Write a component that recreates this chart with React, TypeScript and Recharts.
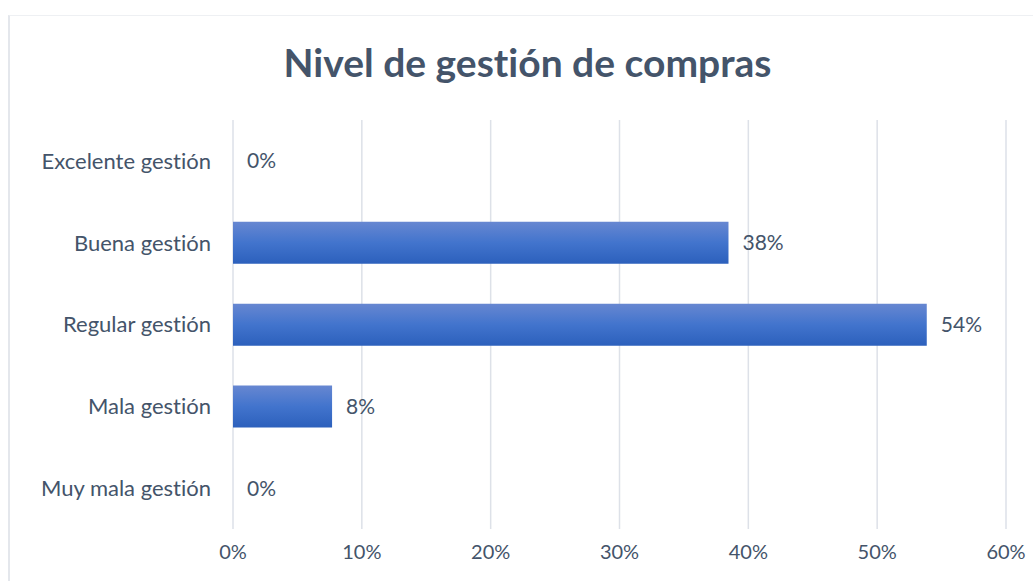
import React from "react";
import { BarChart, Bar, XAxis, YAxis, CartesianGrid, LabelList } from "recharts";

const categories = ["Excelente gestión", "Buena gestión", "Regular gestión", "Mala gestión", "Muy mala gestión"];
const percentages = [0, 38.46, 53.85, 7.69, 0];
const xTicks = [0, 10, 20, 30, 40, 50, 60];
const title = "Nivel de gestión de compras";

const data = categories.map((c, i) => ({ name: c, value: percentages[i] }));

const FONT = "Lato, 'Open Sans', sans-serif";
const TEXT = "#44546A";

export default function App() {
  return (
    <div style={{ position: "fixed", left: 0, top: 0, width: 1033, height: 581, overflow: "hidden", background: "#fff", fontVariantLigatures: "none", fontFeatureSettings: '"liga" 0, "clig" 0' }}>
      <div style={{ position: "absolute", left: 8, top: 15, width: 1200, height: 800, borderLeft: "2px solid #E4E7EC", borderTop: "1px solid #EEF0F3" }} />
      <div style={{ position: "absolute", left: 0, top: 36, width: 1055, textAlign: "center", fontFamily: FONT, fontWeight: 700, fontSize: 39, color: TEXT, lineHeight: "52px" }}>
        {title}
      </div>
      <div style={{ position: "absolute", left: 0, top: 0 }}>
        <BarChart width={1033} height={581} data={data} layout="vertical" margin={{ top: 120, right: 27, bottom: 0, left: 0 }} barCategoryGap="24.5%">
          <defs>
            <linearGradient id="barGrad" x1="0" y1="0" x2="0" y2="1">
              <stop offset="0%" stopColor="#6787D1" />
              <stop offset="50%" stopColor="#4274CD" />
              <stop offset="100%" stopColor="#2C60BC" />
            </linearGradient>
          </defs>
          <CartesianGrid horizontal={false} stroke="#DDE1E8" strokeWidth={1.5} />
          <XAxis type="number" domain={[0, 60]} ticks={xTicks} tickFormatter={(v) => `${v}%`} axisLine={false} tickLine={false} height={52} tickMargin={10} tick={{ fill: TEXT, fontSize: 20, fontFamily: FONT }} interval={0} />
          <YAxis type="category" dataKey="name" width={233} axisLine={false} tickLine={false} tickSize={0} tickMargin={22} tick={{ fill: TEXT, fontSize: 22, fontFamily: FONT }} interval={0} />
          <Bar dataKey="value" fill="url(#barGrad)" isAnimationActive={false} minPointSize={(v: number) => (v === 0 ? 0.01 : 0)}>
            <LabelList dataKey="value" position="right" offset={14} formatter={(v: number) => `${Math.round(v)}%`} style={{ fill: TEXT, fontSize: 21, fontFamily: FONT }} />
          </Bar>
        </BarChart>
      </div>
    </div>
  );
}
